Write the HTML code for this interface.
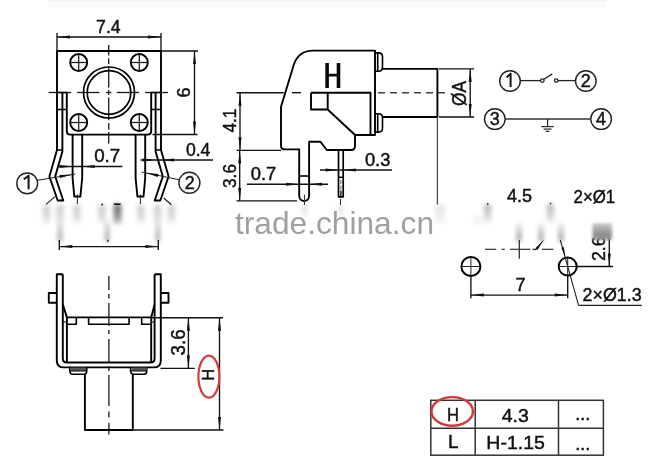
<!DOCTYPE html>
<html><head><meta charset="utf-8"><style>
html,body{margin:0;padding:0;background:#fff;}
svg{display:block;will-change:transform;}
text{font-family:"Liberation Sans",sans-serif;}
</style></head><body>
<svg width="667" height="467" viewBox="0 0 667 467">
<defs><filter id="bl" x="-50%" y="-50%" width="200%" height="200%"><feGaussianBlur stdDeviation="1.6"/></filter><filter id="bl2" x="-80%" y="-50%" width="260%" height="200%"><feGaussianBlur stdDeviation="2.0 2.4"/></filter></defs>
<rect width="667" height="467" fill="#fff"/>
<rect x="48" y="0" width="559" height="1.3" fill="#f1f1f1"/><rect x="48" y="1.3" width="559" height="6" fill="#fbfbfb"/>
<line x1="108.7" y1="45" x2="108.7" y2="55.5" stroke="#1a1a1a" stroke-width="1.3" />
<line x1="108.7" y1="58.3" x2="108.7" y2="64" stroke="#1a1a1a" stroke-width="1.3" />
<line x1="108.7" y1="66.5" x2="108.7" y2="87.5" stroke="#1a1a1a" stroke-width="1.3" />
<line x1="108.7" y1="90" x2="108.7" y2="95" stroke="#1a1a1a" stroke-width="1.3" />
<line x1="108.7" y1="97.5" x2="108.7" y2="120.3" stroke="#1a1a1a" stroke-width="1.3" />
<line x1="108.7" y1="123" x2="108.7" y2="129.6" stroke="#1a1a1a" stroke-width="1.3" />
<line x1="108.7" y1="132" x2="108.7" y2="143.5" stroke="#1a1a1a" stroke-width="1.3" />
<line x1="48.6" y1="92.5" x2="71.1" y2="92.5" stroke="#1a1a1a" stroke-width="1.3" />
<line x1="77.1" y1="92.5" x2="99.4" y2="92.5" stroke="#1a1a1a" stroke-width="1.3" />
<line x1="106" y1="92.5" x2="111.4" y2="92.5" stroke="#1a1a1a" stroke-width="1.3" />
<line x1="116.8" y1="92.5" x2="139.1" y2="92.5" stroke="#1a1a1a" stroke-width="1.3" />
<line x1="145.1" y1="92.5" x2="168" y2="92.5" stroke="#1a1a1a" stroke-width="1.3" />
<path d="M57,150 L57,51 L161,51 L161,150" stroke="#000" stroke-width="1.9" fill="none" stroke-linejoin="round" />
<path d="M57,150 L49.4,176.5 L57.7,200.5 L63.3,200.5 L55.2,176.5 L62.4,151.5 L62.4,92.5" stroke="#000" stroke-width="1.9" fill="none" stroke-linejoin="round" />
<path d="M57,92.5 L66.8,92.5 M57,109.5 L66.8,109.5 M57,150 L62.4,150" stroke="#000" stroke-width="1.5" fill="none" stroke-linejoin="round" />
<path d="M161,150 L168.6,176.5 L160.3,200.5 L154.7,200.5 L162.8,176.5 L155.6,151.5 L155.6,92.5" stroke="#000" stroke-width="1.9" fill="none" stroke-linejoin="round" />
<path d="M161,92.5 L151.2,92.5 M161,109.5 L151.2,109.5 M161,150 L155.6,150" stroke="#000" stroke-width="1.5" fill="none" stroke-linejoin="round" />
<path d="M66.8,92.5 L66.8,131 Q66.8,134.6 70.4,134.6 L147.6,134.6 Q151.2,134.6 151.2,131 L151.2,92.5" stroke="#000" stroke-width="1.9" fill="none" stroke-linejoin="round" />
<path d="M72.6,134.6 L72.6,178 L74.3,196.5 L80.4,196.5 L82.2,178 L82.2,134.6" stroke="#000" stroke-width="1.9" fill="none" stroke-linejoin="round" />
<path d="M135.6,134.6 L135.6,178 L137.4,196.5 L143.5,196.5 L145.2,178 L145.2,134.6" stroke="#000" stroke-width="1.9" fill="none" stroke-linejoin="round" />
<line x1="77.4" y1="194.5" x2="77.4" y2="204.2" stroke="#222" stroke-width="1.0" />
<line x1="140.4" y1="194.5" x2="140.4" y2="204.2" stroke="#222" stroke-width="1.0" />
<circle cx="78.7" cy="62.5" r="8.5" stroke="#000" stroke-width="1.9" fill="none"/>
<line x1="70.2" y1="62.5" x2="87.2" y2="62.5" stroke="#1a1a1a" stroke-width="1.25" />
<line x1="78.7" y1="54.0" x2="78.7" y2="71.0" stroke="#1a1a1a" stroke-width="1.25" />
<circle cx="139.3" cy="62.5" r="8.5" stroke="#000" stroke-width="1.9" fill="none"/>
<line x1="130.8" y1="62.5" x2="147.8" y2="62.5" stroke="#1a1a1a" stroke-width="1.25" />
<line x1="139.3" y1="54.0" x2="139.3" y2="71.0" stroke="#1a1a1a" stroke-width="1.25" />
<circle cx="78.7" cy="122.5" r="8.5" stroke="#000" stroke-width="1.9" fill="none"/>
<line x1="70.2" y1="122.5" x2="87.2" y2="122.5" stroke="#1a1a1a" stroke-width="1.25" />
<line x1="78.7" y1="114.0" x2="78.7" y2="131.0" stroke="#1a1a1a" stroke-width="1.25" />
<circle cx="139.3" cy="122.5" r="8.5" stroke="#000" stroke-width="1.9" fill="none"/>
<line x1="130.8" y1="122.5" x2="147.8" y2="122.5" stroke="#1a1a1a" stroke-width="1.25" />
<line x1="139.3" y1="114.0" x2="139.3" y2="131.0" stroke="#1a1a1a" stroke-width="1.25" />
<circle cx="109" cy="92.5" r="25.5" stroke="#000" stroke-width="1.7" fill="none"/>
<circle cx="109" cy="92.5" r="21.8" stroke="#000" stroke-width="1.7" fill="none"/>
<line x1="57" y1="33" x2="57" y2="51" stroke="#111" stroke-width="1.35" />
<line x1="161" y1="33" x2="161" y2="51" stroke="#111" stroke-width="1.35" />
<line x1="57" y1="37" x2="161" y2="37" stroke="#111" stroke-width="1.35" />
<path d="M57.00,37.00 L70.00,35.50 L70.00,38.50 Z" fill="#111"/>
<path d="M161.00,37.00 L148.00,38.50 L148.00,35.50 Z" fill="#111"/>
<text x="96.1" y="33.3" font-size="18.3" fill="#111" text-anchor="start" textLength="24.5" lengthAdjust="spacingAndGlyphs" stroke="#111" stroke-width="0.45">7.4</text>
<line x1="161" y1="51" x2="198" y2="51" stroke="#111" stroke-width="1.35" />
<line x1="152.5" y1="134.5" x2="197.5" y2="134.5" stroke="#111" stroke-width="1.35" />
<line x1="194.5" y1="51" x2="194.5" y2="134.5" stroke="#111" stroke-width="1.35" />
<path d="M194.50,51.00 L196.00,64.00 L193.00,64.00 Z" fill="#111"/>
<path d="M194.50,134.50 L193.00,121.50 L196.00,121.50 Z" fill="#111"/>
<text transform="translate(189.7,92.5) rotate(-90)" x="0" y="0" font-size="18" fill="#111" text-anchor="middle" stroke="#111" stroke-width="0.45">6</text>
<line x1="58.6" y1="166.5" x2="122.4" y2="166.5" stroke="#111" stroke-width="1.35" />
<path d="M72.60,166.50 L59.60,168.00 L59.60,165.00 Z" fill="#111"/>
<path d="M81.90,166.50 L94.90,165.00 L94.90,168.00 Z" fill="#111"/>
<text x="94.2" y="162.4" font-size="18" fill="#111" text-anchor="start" textLength="26" lengthAdjust="spacingAndGlyphs" stroke="#111" stroke-width="0.45">0.7</text>
<line x1="140.6" y1="160" x2="213" y2="160" stroke="#111" stroke-width="1.35" />
<path d="M155.50,160.00 L142.50,161.50 L142.50,158.50 Z" fill="#111"/>
<path d="M161.00,160.00 L174.00,158.50 L174.00,161.50 Z" fill="#111"/>
<text x="185.9" y="155.5" font-size="18" fill="#111" text-anchor="start" textLength="24.5" lengthAdjust="spacingAndGlyphs" stroke="#111" stroke-width="0.45">0.4</text>
<circle cx="27.2" cy="183.4" r="10.4" stroke="#222" stroke-width="1.4" fill="none"/>
<path d="M23.8,179.3 L28.6,175.8 L28.6,189.3" stroke="#111" stroke-width="2.0" fill="none" stroke-linejoin="round" stroke-linecap="butt" stroke-linejoin="miter"/>
<line x1="36.8" y1="180.4" x2="75.2" y2="174.1" stroke="#222" stroke-width="1.0" />
<path d="M72.60,174.50 L60.01,178.08 L59.53,175.12 Z" fill="#111"/>
<circle cx="189.4" cy="182.8" r="10.5" stroke="#222" stroke-width="1.4" fill="none"/>
<text x="189.7" y="189.2" font-size="18" fill="#111" text-anchor="middle" stroke="#111" stroke-width="0.45">2</text>
<line x1="179.8" y1="179.9" x2="141.6" y2="172" stroke="#222" stroke-width="1.0" />
<path d="M145.40,172.80 L158.43,173.97 L157.83,176.90 Z" fill="#111"/>
<line x1="46" y1="204.4" x2="55" y2="196.6" stroke="#222" stroke-width="1.2" />
<line x1="163.7" y1="198" x2="171.4" y2="204.8" stroke="#222" stroke-width="1.2" />
<line x1="59.3" y1="240" x2="59.3" y2="250" stroke="#111" stroke-width="1.35" />
<line x1="158.3" y1="240" x2="158.3" y2="250" stroke="#111" stroke-width="1.35" />
<line x1="59.3" y1="246.6" x2="158.3" y2="246.6" stroke="#111" stroke-width="1.35" />
<path d="M59.30,246.60 L72.30,245.10 L72.30,248.10 Z" fill="#111"/>
<path d="M158.30,246.60 L145.30,248.10 L145.30,245.10 Z" fill="#111"/>
<line x1="236.5" y1="92.7" x2="283.7" y2="92.7" stroke="#111" stroke-width="1.35" />
<line x1="292" y1="92.7" x2="301" y2="92.7" stroke="#111" stroke-width="1.35" />
<line x1="378" y1="92.7" x2="445" y2="92.7" stroke="#444" stroke-width="1.35" stroke-dasharray="7 5"/>
<path d="M312.8,50.6 L375,50.6 L375,135 L355,135 L355,146 Q355,150 351,150 L326.8,150 L320.3,141.7 L309.1,141.7 L309.1,196 A4.95,4.95 0 0 1 299.2,196 L299.2,149.4 L285,149.4 Q281,149.4 281,145.4 L281,106.8 L294,64 Q299,50.6 312.8,50.6 Z" stroke="#000" stroke-width="1.9" fill="none" stroke-linejoin="round" />
<path d="M311,92.7 L370.5,92.7 L370.5,135" stroke="#000" stroke-width="1.9" fill="none" stroke-linejoin="round" />
<path d="M311,92.7 L311,109.5 L327.7,109.5 L327.7,92.7 M327.7,109.5 L355,135" stroke="#000" stroke-width="1.9" fill="none" stroke-linejoin="round" />
<path d="M375,52.9 L378.5,52.9 Q382.5,52.9 382.5,57 L382.5,67 Q382.5,71.2 378.5,71.2 L375,71.2 M377.7,52.9 L377.7,71.2" stroke="#000" stroke-width="1.6" fill="none" stroke-linejoin="round" />
<path d="M375,113.8 L378.5,113.8 Q382.5,113.8 382.5,118 L382.5,128 Q382.5,132.1 378.5,132.1 L375,132.1 M377.7,113.8 L377.7,132.1" stroke="#000" stroke-width="1.6" fill="none" stroke-linejoin="round" />
<path d="M382.5,68.9 L437.4,68.9 L437.4,117 L382.5,117" stroke="#000" stroke-width="1.9" fill="none" stroke-linejoin="round" />
<line x1="299.2" y1="176" x2="309.1" y2="176" stroke="#000" stroke-width="1.6" />
<path d="M338.5,150 L338.5,196.8 L343.2,196.8 L343.2,150" stroke="#000" stroke-width="1.7" fill="none" stroke-linejoin="round" />
<line x1="338.5" y1="177.3" x2="343.2" y2="177.3" stroke="#000" stroke-width="1.5" />
<line x1="340.85" y1="180" x2="340.85" y2="196" stroke="#888" stroke-width="1.2" stroke-dasharray="4 1.5"/>
<line x1="340.85" y1="190.6" x2="340.85" y2="196" stroke="#444" stroke-width="1.6" />
<path d="M325.3,63.1 h3.6 v10.7 h7.8 v-10.7 h3.6 v24.8 h-3.6 v-11.3 h-7.8 v11.3 h-3.6 Z" fill="#0a0a0a"/>
<line x1="236.5" y1="150.3" x2="281" y2="150.3" stroke="#111" stroke-width="1.35" />
<line x1="236.5" y1="200.8" x2="297" y2="200.8" stroke="#111" stroke-width="1.35" />
<line x1="240" y1="92.7" x2="240" y2="150.3" stroke="#111" stroke-width="1.35" />
<path d="M240.00,92.70 L241.50,105.70 L238.50,105.70 Z" fill="#111"/>
<path d="M240.00,150.30 L238.50,137.30 L241.50,137.30 Z" fill="#111"/>
<line x1="239.7" y1="150.6" x2="239.7" y2="200.8" stroke="#111" stroke-width="1.35" />
<path d="M239.70,150.60 L241.20,163.60 L238.20,163.60 Z" fill="#111"/>
<path d="M239.70,200.80 L238.20,187.80 L241.20,187.80 Z" fill="#111"/>
<text transform="translate(235.5,120.6) rotate(-90)" x="0" y="0" font-size="18" fill="#111" text-anchor="middle" textLength="24" lengthAdjust="spacingAndGlyphs" stroke="#111" stroke-width="0.45">4.1</text>
<text transform="translate(235.5,176) rotate(-90)" x="0" y="0" font-size="18" fill="#111" text-anchor="middle" textLength="24" lengthAdjust="spacingAndGlyphs" stroke="#111" stroke-width="0.45">3.6</text>
<line x1="246.8" y1="184.2" x2="328" y2="184.2" stroke="#111" stroke-width="1.35" />
<path d="M299.20,184.20 L286.20,185.70 L286.20,182.70 Z" fill="#111"/>
<path d="M309.10,184.20 L322.10,182.70 L322.10,185.70 Z" fill="#111"/>
<text x="250.7" y="179.7" font-size="18" fill="#111" text-anchor="start" textLength="25.5" lengthAdjust="spacingAndGlyphs" stroke="#111" stroke-width="0.45">0.7</text>
<line x1="320" y1="170" x2="392" y2="170" stroke="#111" stroke-width="1.35" />
<path d="M338.50,170.00 L325.50,171.50 L325.50,168.50 Z" fill="#111"/>
<path d="M342.80,170.00 L355.80,168.50 L355.80,171.50 Z" fill="#111"/>
<text x="364.9" y="165.6" font-size="18.5" fill="#111" text-anchor="start" textLength="25.5" lengthAdjust="spacingAndGlyphs" stroke="#111" stroke-width="0.45">0.3</text>
<line x1="304.5" y1="194.8" x2="304.5" y2="205" stroke="#333" stroke-width="1.0" />
<line x1="340.5" y1="199" x2="340.5" y2="205" stroke="#333" stroke-width="1.0" />
<line x1="439" y1="68.9" x2="474" y2="68.9" stroke="#111" stroke-width="1.35" />
<line x1="439" y1="117" x2="474" y2="117" stroke="#111" stroke-width="1.35" />
<line x1="470.2" y1="68.9" x2="470.2" y2="117" stroke="#111" stroke-width="1.35" />
<path d="M470.20,68.90 L471.70,81.90 L468.70,81.90 Z" fill="#111"/>
<path d="M470.20,117.00 L468.70,104.00 L471.70,104.00 Z" fill="#111"/>
<text transform="translate(466,93.4) rotate(-90)" x="0" y="0" font-size="20" fill="#111" text-anchor="middle" textLength="25" lengthAdjust="spacingAndGlyphs" stroke="#111" stroke-width="0.45">ØA</text>
<line x1="437.4" y1="117" x2="437.4" y2="204.7" stroke="#444" stroke-width="1.2" />
<text x="235" y="233.8" font-size="32" fill="#a0a0a0" text-anchor="start" textLength="199" lengthAdjust="spacingAndGlyphs" >trade.china.cn</text>
<linearGradient id="g115" x1="0" y1="0" x2="0" y2="1"><stop offset="0" stop-color="#000" stop-opacity="0.21"/><stop offset="1" stop-color="#000" stop-opacity="0.1"/></linearGradient>
<rect x="42.65" y="205.5" width="7.5" height="17.0" fill="url(#g115)" filter="url(#bl2)"/>
<linearGradient id="g117" x1="0" y1="0" x2="0" y2="1"><stop offset="0" stop-color="#000" stop-opacity="0.21"/><stop offset="1" stop-color="#000" stop-opacity="0.1"/></linearGradient>
<rect x="56.25" y="205.5" width="7.5" height="17.0" fill="url(#g117)" filter="url(#bl2)"/>
<linearGradient id="g119" x1="0" y1="0" x2="0" y2="1"><stop offset="0" stop-color="#000" stop-opacity="0.21"/><stop offset="1" stop-color="#000" stop-opacity="0.1"/></linearGradient>
<rect x="73.05" y="205.5" width="7.5" height="17.0" fill="url(#g119)" filter="url(#bl2)"/>
<linearGradient id="g121" x1="0" y1="0" x2="0" y2="1"><stop offset="0" stop-color="#000" stop-opacity="0.21"/><stop offset="1" stop-color="#000" stop-opacity="0.1"/></linearGradient>
<rect x="98.25" y="205.5" width="7.5" height="17.0" fill="url(#g121)" filter="url(#bl2)"/>
<linearGradient id="g123" x1="0" y1="0" x2="0" y2="1"><stop offset="0" stop-color="#000" stop-opacity="0.21"/><stop offset="1" stop-color="#000" stop-opacity="0.1"/></linearGradient>
<rect x="137.05" y="205.5" width="7.5" height="17.0" fill="url(#g123)" filter="url(#bl2)"/>
<linearGradient id="g125" x1="0" y1="0" x2="0" y2="1"><stop offset="0" stop-color="#000" stop-opacity="0.21"/><stop offset="1" stop-color="#000" stop-opacity="0.1"/></linearGradient>
<rect x="153.85" y="205.5" width="7.5" height="17.0" fill="url(#g125)" filter="url(#bl2)"/>
<linearGradient id="g127" x1="0" y1="0" x2="0" y2="1"><stop offset="0" stop-color="#000" stop-opacity="0.21"/><stop offset="1" stop-color="#000" stop-opacity="0.1"/></linearGradient>
<rect x="167.55" y="205.5" width="7.5" height="17.0" fill="url(#g127)" filter="url(#bl2)"/>
<linearGradient id="g129" x1="0" y1="0" x2="0" y2="1"><stop offset="0" stop-color="#000" stop-opacity="0.6"/><stop offset="1" stop-color="#000" stop-opacity="0.3"/></linearGradient>
<rect x="113.5" y="204.5" width="8" height="18.5" fill="url(#g129)" filter="url(#bl2)"/>
<line x1="113.9" y1="204.2" x2="120.6" y2="204.2" stroke="#111" stroke-width="1.6" />
<circle cx="102.2" cy="204.4" r="1.0" stroke="#222" stroke-width="0" fill="#222"/>
<linearGradient id="g133" x1="0" y1="0" x2="0" y2="1"><stop offset="0" stop-color="#000" stop-opacity="0.12"/><stop offset="1" stop-color="#000" stop-opacity="0.35"/></linearGradient>
<rect x="57.5" y="222" width="5" height="19" fill="url(#g133)" filter="url(#bl2)"/>
<linearGradient id="g135" x1="0" y1="0" x2="0" y2="1"><stop offset="0" stop-color="#000" stop-opacity="0.12"/><stop offset="1" stop-color="#000" stop-opacity="0.35"/></linearGradient>
<rect x="104.7" y="222" width="5" height="19" fill="url(#g135)" filter="url(#bl2)"/>
<linearGradient id="g137" x1="0" y1="0" x2="0" y2="1"><stop offset="0" stop-color="#000" stop-opacity="0.12"/><stop offset="1" stop-color="#000" stop-opacity="0.35"/></linearGradient>
<rect x="155.3" y="222" width="5" height="19" fill="url(#g137)" filter="url(#bl2)"/>
<line x1="107.8" y1="239.8" x2="107.8" y2="241.8" stroke="#222" stroke-width="1.6" />
<linearGradient id="g140" x1="0" y1="0" x2="0" y2="1"><stop offset="0" stop-color="#000" stop-opacity="0.15"/><stop offset="1" stop-color="#000" stop-opacity="0.02"/></linearGradient>
<rect x="302.0" y="205" width="5" height="13" fill="url(#g140)" filter="url(#bl2)"/>
<linearGradient id="g142" x1="0" y1="0" x2="0" y2="1"><stop offset="0" stop-color="#000" stop-opacity="0.15"/><stop offset="1" stop-color="#000" stop-opacity="0.02"/></linearGradient>
<rect x="338.0" y="205" width="5" height="13" fill="url(#g142)" filter="url(#bl2)"/>
<linearGradient id="g144" x1="0" y1="0" x2="0" y2="1"><stop offset="0" stop-color="#000" stop-opacity="0.12"/><stop offset="1" stop-color="#000" stop-opacity="0.03"/></linearGradient>
<rect x="435.0" y="206" width="10" height="18" fill="url(#g144)" filter="url(#bl2)"/>
<linearGradient id="g146" x1="0" y1="0" x2="0" y2="1"><stop offset="0" stop-color="#000" stop-opacity="0.3"/><stop offset="1" stop-color="#000" stop-opacity="0.08"/></linearGradient>
<rect x="483.95" y="204.5" width="7.5" height="17.5" fill="url(#g146)" filter="url(#bl2)"/>
<linearGradient id="g148" x1="0" y1="0" x2="0" y2="1"><stop offset="0" stop-color="#000" stop-opacity="0.3"/><stop offset="1" stop-color="#000" stop-opacity="0.08"/></linearGradient>
<rect x="546.65" y="204.5" width="7.5" height="17.5" fill="url(#g148)" filter="url(#bl2)"/>
<linearGradient id="g150" x1="0" y1="0" x2="0" y2="1"><stop offset="0" stop-color="#000" stop-opacity="0.06"/><stop offset="1" stop-color="#000" stop-opacity="0.4"/></linearGradient>
<rect x="516.25" y="223.5" width="5.5" height="17.5" fill="url(#g150)" filter="url(#bl2)"/>
<linearGradient id="g152" x1="0" y1="0" x2="0" y2="1"><stop offset="0" stop-color="#000" stop-opacity="0.06"/><stop offset="1" stop-color="#000" stop-opacity="0.4"/></linearGradient>
<rect x="538.25" y="223.5" width="5.5" height="17.5" fill="url(#g152)" filter="url(#bl2)"/>
<linearGradient id="g154" x1="0" y1="0" x2="0" y2="1"><stop offset="0" stop-color="#000" stop-opacity="0.06"/><stop offset="1" stop-color="#000" stop-opacity="0.4"/></linearGradient>
<rect x="558.25" y="223.5" width="5.5" height="17.5" fill="url(#g154)" filter="url(#bl2)"/>
<linearGradient id="g156" x1="0" y1="0" x2="0" y2="1"><stop offset="0" stop-color="#000" stop-opacity="0.1"/><stop offset="1" stop-color="#000" stop-opacity="0.3"/></linearGradient>
<rect x="607.4" y="224" width="4" height="15" fill="url(#g156)" filter="url(#bl2)"/>
<linearGradient id="g158" x1="0" y1="0" x2="0" y2="1"><stop offset="0" stop-color="#000" stop-opacity="0.05"/><stop offset="1" stop-color="#000" stop-opacity="0.05"/></linearGradient>
<rect x="473.5" y="216" width="8" height="9" fill="url(#g158)" filter="url(#bl2)"/>
<circle cx="510" cy="81" r="10.3" stroke="#222" stroke-width="1.4" fill="none"/>
<path d="M506.6,77.5 L510.6,73.6 L510.6,87" stroke="#111" stroke-width="2.0" fill="none" stroke-linejoin="round" stroke-linecap="butt" stroke-linejoin="miter"/>
<circle cx="585.8" cy="81" r="10.3" stroke="#222" stroke-width="1.4" fill="none"/>
<text x="585.8" y="87.3" font-size="18" fill="#111" text-anchor="middle" stroke="#111" stroke-width="0.45">2</text>
<circle cx="494.8" cy="119.1" r="10.3" stroke="#222" stroke-width="1.4" fill="none"/>
<text x="494.8" y="125.39999999999999" font-size="18" fill="#111" text-anchor="middle" stroke="#111" stroke-width="0.45">3</text>
<circle cx="601.1" cy="119.1" r="10.3" stroke="#222" stroke-width="1.4" fill="none"/>
<text x="601.1" y="125.39999999999999" font-size="18" fill="#111" text-anchor="middle" stroke="#111" stroke-width="0.45">4</text>
<line x1="520.3" y1="80.6" x2="540.4" y2="80.6" stroke="#222" stroke-width="1.3" />
<circle cx="542.3" cy="80.6" r="1.8" stroke="#222" stroke-width="1.3" fill="none"/>
<line x1="543.6" y1="79.5" x2="552.3" y2="73.9" stroke="#222" stroke-width="1.3" />
<circle cx="556.2" cy="80.6" r="1.8" stroke="#222" stroke-width="1.3" fill="none"/>
<line x1="558" y1="80.6" x2="575.5" y2="80.6" stroke="#222" stroke-width="1.3" />
<line x1="505" y1="119" x2="590.8" y2="119" stroke="#333" stroke-width="1.5" />
<line x1="547.6" y1="119" x2="547.6" y2="126.6" stroke="#222" stroke-width="1.2" />
<line x1="541.3" y1="126.6" x2="553.8" y2="126.6" stroke="#222" stroke-width="1.2" />
<line x1="543.6" y1="129.1" x2="551.5" y2="129.1" stroke="#222" stroke-width="1.2" />
<line x1="545.8" y1="131.4" x2="549.4" y2="131.4" stroke="#222" stroke-width="1.2" />
<circle cx="470.9" cy="266.5" r="9.5" stroke="#000" stroke-width="2.0" fill="none"/>
<line x1="461.4" y1="266.5" x2="480.4" y2="266.5" stroke="#222" stroke-width="1.0" />
<line x1="470.9" y1="257" x2="470.9" y2="276" stroke="#222" stroke-width="1.0" />
<circle cx="567.7" cy="266.5" r="9.0" stroke="#000" stroke-width="2.0" fill="none"/>
<line x1="558.7" y1="266.5" x2="576.7" y2="266.5" stroke="#222" stroke-width="1.0" />
<line x1="567.7" y1="257.5" x2="567.7" y2="275.5" stroke="#222" stroke-width="1.0" />
<line x1="519.3" y1="240" x2="519.3" y2="258.8" stroke="#222" stroke-width="1.2" />
<line x1="485" y1="249.3" x2="496.2" y2="249.3" stroke="#333" stroke-width="1.2" />
<line x1="501.4" y1="249.3" x2="504.8" y2="249.3" stroke="#333" stroke-width="1.2" />
<line x1="510" y1="249.3" x2="530.3" y2="249.3" stroke="#333" stroke-width="1.2" />
<line x1="542" y1="249.3" x2="553.4" y2="249.3" stroke="#333" stroke-width="1.2" />
<line x1="532.6" y1="249.3" x2="536.1" y2="249.5" stroke="#333" stroke-width="1.3" />
<line x1="536.1" y1="249.5" x2="543.2" y2="240.5" stroke="#222" stroke-width="1.0" />
<path d="M543.20,240.50 L537.54,250.03 L535.33,248.31 Z" fill="#111"/>
<line x1="470.9" y1="276" x2="470.9" y2="298.2" stroke="#111" stroke-width="1.35" />
<line x1="567.7" y1="275.5" x2="567.7" y2="298.2" stroke="#111" stroke-width="1.35" />
<line x1="470.9" y1="295.1" x2="567.7" y2="295.1" stroke="#111" stroke-width="1.35" />
<path d="M470.90,295.10 L483.90,293.60 L483.90,296.60 Z" fill="#111"/>
<path d="M567.70,295.10 L554.70,296.60 L554.70,293.60 Z" fill="#111"/>
<text x="515.4" y="291.3" font-size="18" fill="#111" text-anchor="start" stroke="#111" stroke-width="0.45">7</text>
<line x1="576.7" y1="266.5" x2="613" y2="266.5" stroke="#111" stroke-width="1.35" />
<line x1="609.3" y1="238" x2="609.3" y2="266.5" stroke="#111" stroke-width="1.35" />
<path d="M609.30,266.50 L607.80,253.50 L610.80,253.50 Z" fill="#111"/>
<text transform="translate(605.4,248.7) rotate(-90)" x="0" y="0" font-size="18.5" fill="#111" text-anchor="middle" textLength="24.5" lengthAdjust="spacingAndGlyphs" stroke="#111" stroke-width="0.45">2.6</text>
<line x1="560.3" y1="240" x2="578.6" y2="305.4" stroke="#222" stroke-width="1.1" />
<line x1="578.6" y1="305.4" x2="642" y2="305.4" stroke="#222" stroke-width="1.3" />
<path d="M565.20,256.50 L561.32,247.73 L563.82,247.01 Z" fill="#111"/>
<text x="507.1" y="202.3" font-size="17.5" fill="#111" text-anchor="start" textLength="25" lengthAdjust="spacingAndGlyphs" stroke="#111" stroke-width="0.45">4.5</text>
<text x="573.6" y="202.5" font-size="18" fill="#111" text-anchor="start" textLength="41.5" lengthAdjust="spacingAndGlyphs" stroke="#111" stroke-width="0.45">2×Ø1</text>
<text x="582.6" y="301.3" font-size="18" fill="#111" text-anchor="start" textLength="59" lengthAdjust="spacingAndGlyphs" stroke="#111" stroke-width="0.45">2×Ø1.3</text>
<circle cx="487.7" cy="204" r="0.9" stroke="#333" stroke-width="0" fill="#333"/>
<circle cx="550.5" cy="203.6" r="0.9" stroke="#333" stroke-width="0" fill="#333"/>
<line x1="108.9" y1="276" x2="108.9" y2="290" stroke="#1a1a1a" stroke-width="1.3" />
<line x1="108.9" y1="294" x2="108.9" y2="298.5" stroke="#1a1a1a" stroke-width="1.3" />
<line x1="108.9" y1="303" x2="108.9" y2="326" stroke="#1a1a1a" stroke-width="1.3" />
<line x1="108.9" y1="330" x2="108.9" y2="334" stroke="#1a1a1a" stroke-width="1.3" />
<line x1="108.9" y1="339" x2="108.9" y2="362" stroke="#1a1a1a" stroke-width="1.3" />
<line x1="108.9" y1="366" x2="108.9" y2="371" stroke="#1a1a1a" stroke-width="1.3" />
<line x1="108.9" y1="375" x2="108.9" y2="406" stroke="#1a1a1a" stroke-width="1.3" />
<line x1="108.9" y1="411.5" x2="108.9" y2="417.4" stroke="#1a1a1a" stroke-width="1.3" />
<line x1="108.9" y1="422.7" x2="108.9" y2="434.6" stroke="#1a1a1a" stroke-width="1.3" />
<path d="M62.8,274.3 L56.8,274.3 L56.8,360.4 Q56.8,367.4 63.8,367.4 L153.8,367.4 Q160.8,367.4 160.8,360.4 L160.8,274.3 L154.6,274.3" stroke="#000" stroke-width="1.9" fill="none" stroke-linejoin="round" />
<path d="M62.8,274.3 L62.8,358.5 Q62.8,362.5 66.8,362.5 L150.6,362.5 Q154.6,362.5 154.6,358.5 L154.6,274.3" stroke="#000" stroke-width="1.9" fill="none" stroke-linejoin="round" />
<path d="M56.8,293 L48.8,293 L48.8,302.7 L56.8,302.7" stroke="#000" stroke-width="1.9" fill="none" stroke-linejoin="round" />
<path d="M160.8,293 L168.5,293 L168.5,302.7 L160.8,302.7" stroke="#000" stroke-width="1.9" fill="none" stroke-linejoin="round" />
<path d="M62.8,304.5 L66.9,317.4 L66.9,362.5" stroke="#000" stroke-width="1.9" fill="none" stroke-linejoin="round" />
<path d="M154.6,304.5 L151.2,317.4 L151.2,362.5" stroke="#000" stroke-width="1.9" fill="none" stroke-linejoin="round" />
<path d="M62.8,322 L66.9,322 M154.6,322 L151.2,322" stroke="#000" stroke-width="1.2" fill="none" stroke-linejoin="round" />
<path d="M66.9,317.4 L151.2,317.4" stroke="#000" stroke-width="1.9" fill="none" stroke-linejoin="round" />
<path d="M66.9,324.3 L76.3,324.3 L76.3,317.4 M88.6,317.4 L88.6,324.3 L129.1,324.3 L129.1,317.4 M141.7,317.4 L141.7,324.3 L151.2,324.3" stroke="#000" stroke-width="1.6" fill="none" stroke-linejoin="round" />
<path d="M69.7,367.4 L69.7,371 Q70,374.2 73,374.2 L84,374.2 Q86.8,374.2 86.8,371 L86.8,367.4 M70,370.8 L86.5,370.8" stroke="#000" stroke-width="1.5" fill="none" stroke-linejoin="round" />
<path d="M130.5,367.4 L130.5,371 Q130.8,374.2 133.8,374.2 L144,374.2 Q146.8,374.2 146.8,371 L146.8,367.4 M130.8,370.8 L146.5,370.8" stroke="#000" stroke-width="1.5" fill="none" stroke-linejoin="round" />
<rect x="70.5" y="367.6" width="15.5" height="3" fill="#555"/><rect x="131.3" y="367.6" width="15.5" height="3" fill="#555"/>
<path d="M84.9,374.2 L84.9,430 L132.8,430 L132.8,374.2" stroke="#000" stroke-width="1.9" fill="none" stroke-linejoin="round" />
<line x1="151.7" y1="317.7" x2="223" y2="317.7" stroke="#111" stroke-width="1.35" />
<line x1="160.5" y1="368.3" x2="194.8" y2="368.3" stroke="#111" stroke-width="1.35" />
<line x1="132.8" y1="430" x2="223.5" y2="430" stroke="#111" stroke-width="1.35" />
<line x1="188.4" y1="317.7" x2="188.4" y2="368.3" stroke="#111" stroke-width="1.35" />
<path d="M188.40,317.70 L189.90,330.70 L186.90,330.70 Z" fill="#111"/>
<path d="M188.40,368.30 L186.90,355.30 L189.90,355.30 Z" fill="#111"/>
<line x1="219.5" y1="317.7" x2="219.5" y2="430" stroke="#111" stroke-width="1.35" />
<path d="M219.50,317.70 L221.00,330.70 L218.00,330.70 Z" fill="#111"/>
<path d="M219.50,430.00 L218.00,417.00 L221.00,417.00 Z" fill="#111"/>
<text transform="translate(184.8,342.4) rotate(-90)" x="0" y="0" font-size="19.5" fill="#111" text-anchor="middle" textLength="26" lengthAdjust="spacingAndGlyphs" stroke="#111" stroke-width="0.45">3.6</text>
<text transform="translate(214.2,374.8) rotate(-90)" x="0" y="0" font-size="16.5" fill="#111" text-anchor="middle" stroke="#111" stroke-width="0.45">H</text>
<ellipse cx="208.9" cy="376.6" rx="10.5" ry="21" stroke="#d23a3a" stroke-width="2.2" fill="none"/>
<rect x="430.8" y="400.3" width="172.6" height="54.9" fill="none" stroke="#333" stroke-width="1.5"/>
<line x1="430.8" y1="428.2" x2="603.4" y2="428.2" stroke="#333" stroke-width="1.5" />
<line x1="475.2" y1="400.3" x2="475.2" y2="455.2" stroke="#333" stroke-width="1.5" />
<line x1="558.5" y1="400.3" x2="558.5" y2="455.2" stroke="#333" stroke-width="1.5" />
<text x="453" y="421.2" font-size="19" fill="#111" text-anchor="middle" textLength="12" lengthAdjust="spacingAndGlyphs" stroke="#111" stroke-width="0.45">H</text>
<text x="453.2" y="447.6" font-size="19" fill="#111" text-anchor="middle" textLength="10.5" lengthAdjust="spacingAndGlyphs" stroke="#111" stroke-width="0.45">L</text>
<text x="515.2" y="421.5" font-size="18" fill="#111" text-anchor="middle" textLength="27" lengthAdjust="spacingAndGlyphs" stroke="#111" stroke-width="0.45">4.3</text>
<text x="515.6" y="448.5" font-size="18" fill="#111" text-anchor="middle" textLength="58.5" lengthAdjust="spacingAndGlyphs" stroke="#111" stroke-width="0.45">H-1.15</text>
<text x="582.8" y="420" font-size="18" fill="#111" text-anchor="middle" textLength="15" lengthAdjust="spacingAndGlyphs" stroke="#111" stroke-width="0.45">...</text>
<text x="582.8" y="449.5" font-size="18" fill="#111" text-anchor="middle" textLength="15" lengthAdjust="spacingAndGlyphs" stroke="#111" stroke-width="0.45">...</text>
<ellipse cx="452.2" cy="411.4" rx="20.7" ry="14.3" stroke="#d23a3a" stroke-width="2.4" fill="none"/>
<linearGradient id="g26" x1="0" y1="0" x2="0" y2="1"><stop offset="0" stop-color="#c8c8c8"/><stop offset="0.7" stop-color="#8a8a8a"/><stop offset="1" stop-color="#9a9a9a"/></linearGradient>
<rect x="592.5" y="223.4" width="19" height="16.6" fill="url(#g26)" filter="url(#bl)"/>
</svg>
</body></html>
